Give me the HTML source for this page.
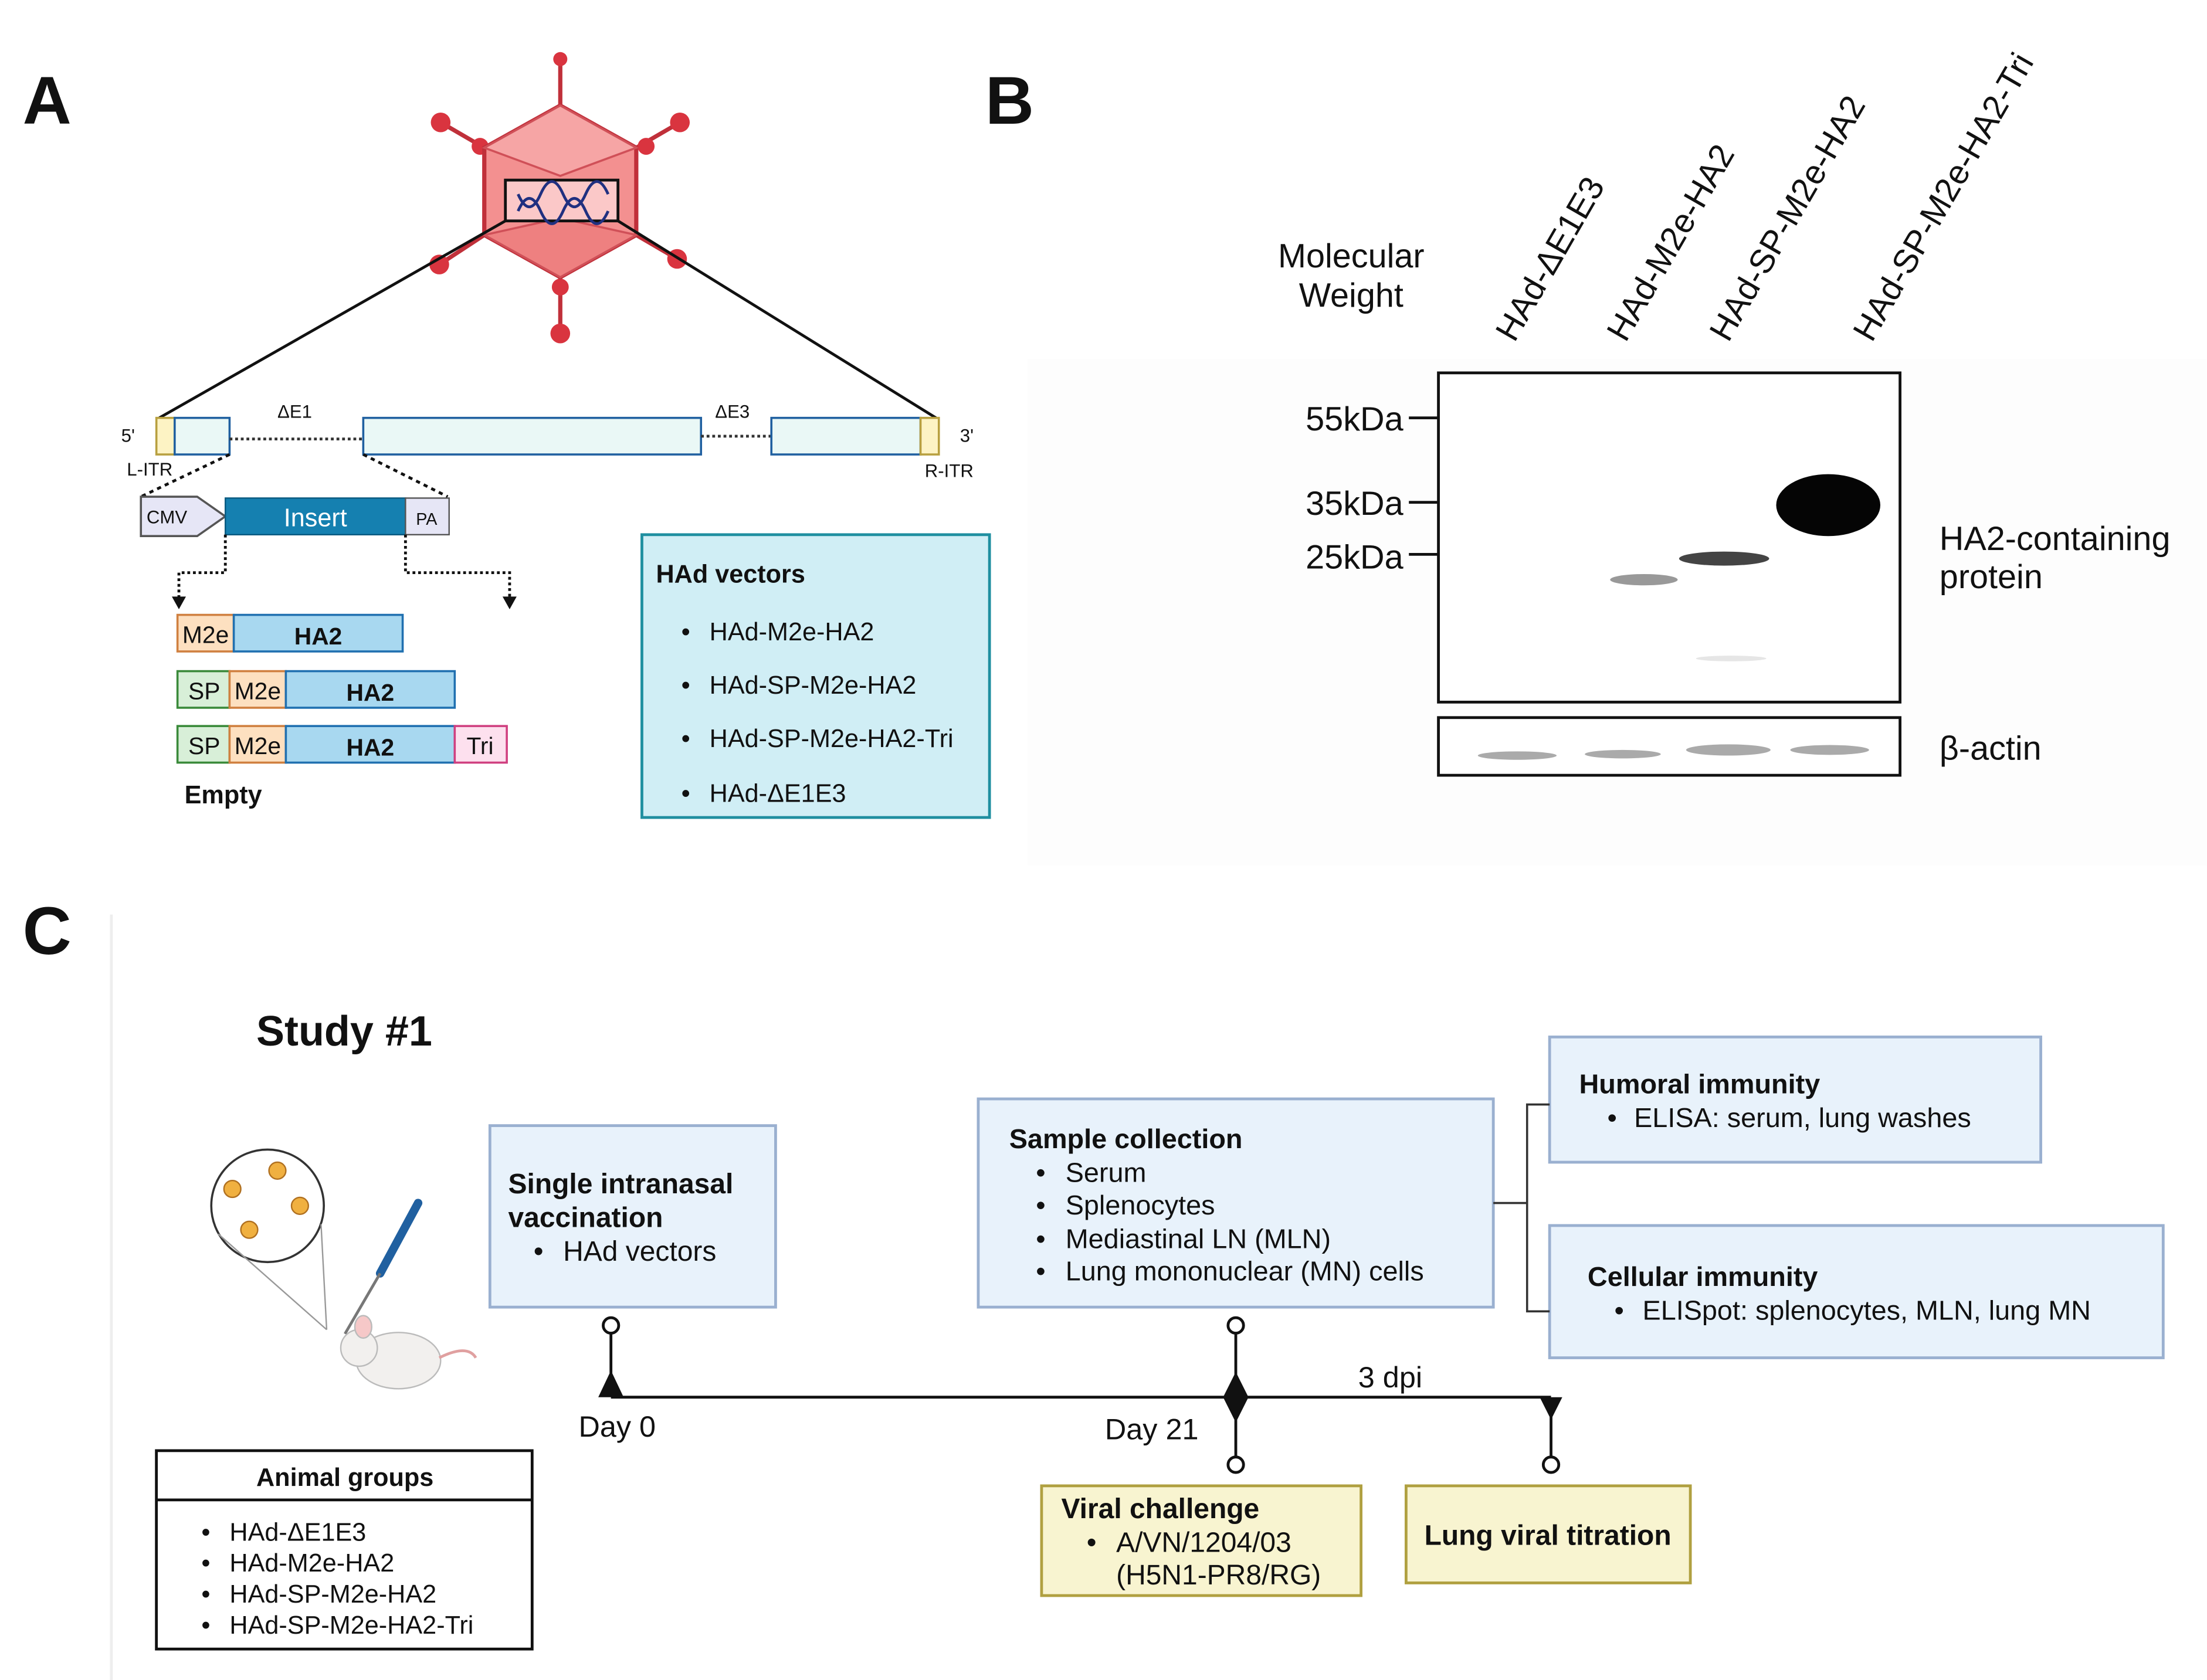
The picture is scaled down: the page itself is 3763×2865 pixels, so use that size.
<!DOCTYPE html>
<html><head><meta charset="utf-8"><style>
html,body{margin:0;padding:0;background:#fff}
svg{display:block}
text{font-family:"Liberation Sans",sans-serif;fill:#111}
.b{font-weight:bold}
</style></head><body>
<svg width="3763" height="2865" viewBox="0 0 1568 1194" xmlns="http://www.w3.org/2000/svg">
<rect width="1568" height="1194" fill="#fff"/>
<!-- Panel A -->
<text x="16" y="88" font-size="48" class="b">A</text>
<g stroke="#c0303a" stroke-width="3">
<line x1="398" y1="75" x2="398" y2="42"/><line x1="344" y1="105" x2="313" y2="87"/><line x1="452" y1="105" x2="483" y2="87"/>
<line x1="344" y1="167" x2="312" y2="188"/><line x1="452" y1="167" x2="481" y2="184"/><line x1="398" y1="197" x2="398" y2="237"/>
</g>
<g fill="#d9343f"><circle cx="398" cy="42" r="5"/><circle cx="313" cy="87" r="7"/><circle cx="483" cy="87" r="7"/><circle cx="312" cy="188" r="7"/><circle cx="481" cy="184" r="7"/><circle cx="398" cy="237" r="7"/><circle cx="398" cy="204" r="6"/><circle cx="341" cy="104" r="6"/><circle cx="459" cy="104" r="6"/></g>
<polygon points="398,75 452,105 452,167 398,197 344,167 344,105" fill="#f39090" stroke="#c0303a" stroke-width="3"/>
<polygon points="398,75 452,105 398,125 344,105" fill="#f6a5a5" stroke="#d05058" stroke-width="1.5"/>
<polygon points="344,167 398,155 452,167 398,197" fill="#ee8080" stroke="#d05058" stroke-width="1.5"/>
<rect x="359" y="128" width="80" height="29" fill="#fbc8c8" stroke="#111" stroke-width="2"/>
<path d="M368,150 q8,-18 16,0 t16,0 t16,0 t16,0" fill="none" stroke="#203080" stroke-width="2"/>
<path d="M368,138 q8,18 16,0 t16,0 t16,0 t16,0" fill="none" stroke="#203080" stroke-width="2"/>
<line x1="359" y1="157" x2="113" y2="297" stroke="#111" stroke-width="2"/>
<line x1="439" y1="157" x2="665" y2="297" stroke="#111" stroke-width="2"/>
<rect x="111" y="297" width="13" height="26" fill="#fdf3c4" stroke="#b8a040" stroke-width="1.5"/>
<rect x="124" y="297" width="39" height="26" fill="#eaf8f6" stroke="#2060a0" stroke-width="1.5"/>
<line x1="163" y1="312" x2="258" y2="312" stroke="#333" stroke-width="2" stroke-dasharray="2,2"/>
<rect x="258" y="297" width="240" height="26" fill="#eaf8f6" stroke="#2060a0" stroke-width="1.5"/>
<line x1="498" y1="310" x2="548" y2="310" stroke="#333" stroke-width="2" stroke-dasharray="2,2"/>
<rect x="548" y="297" width="106" height="26" fill="#eaf8f6" stroke="#2060a0" stroke-width="1.5"/>
<rect x="654" y="297" width="13" height="26" fill="#fdf3c4" stroke="#b8a040" stroke-width="1.5"/>
<g font-size="13"><text x="86" y="314">5'</text><text x="682" y="314">3'</text><text x="90" y="338">L-ITR</text><text x="657" y="339">R-ITR</text><text x="197" y="297">ΔE1</text><text x="508" y="297">ΔE3</text></g>
<line x1="163" y1="323" x2="100" y2="353" stroke="#111" stroke-width="2" stroke-dasharray="3,3"/>
<line x1="258" y1="323" x2="318" y2="353" stroke="#111" stroke-width="2" stroke-dasharray="3,3"/>
<polygon points="100,353 140,353 160,367 140,381 100,381" fill="#e6e6f6" stroke="#555" stroke-width="1.5"/>
<text x="104" y="372" font-size="13">CMV</text>
<rect x="160" y="354" width="128" height="26" fill="#1580b0" stroke="#0a5a80"/>
<text x="224" y="374" font-size="18" text-anchor="middle" style="fill:#fff">Insert</text>
<rect x="288" y="354" width="31" height="26" fill="#e6e6f6" stroke="#555"/>
<text x="303" y="373" font-size="12" text-anchor="middle">PA</text>
<polyline points="160,380 160,407 127,407 127,426" fill="none" stroke="#111" stroke-width="2" stroke-dasharray="2,2"/>
<polygon points="122,424 132,424 127,433" fill="#111"/>
<polyline points="288,380 288,407 362,407 362,426" fill="none" stroke="#111" stroke-width="2" stroke-dasharray="2,2"/>
<polygon points="357,424 367,424 362,433" fill="#111"/>
<g font-size="17">
<rect x="126" y="437" width="40" height="26" fill="#fde0c0" stroke="#d08040" stroke-width="1.5"/><text x="146" y="457" text-anchor="middle">M2e</text>
<rect x="166" y="437" width="120" height="26" fill="#a8d8f0" stroke="#2070b0" stroke-width="1.5"/><text x="226" y="458" text-anchor="middle" class="b">HA2</text>
<rect x="126" y="477" width="37" height="26" fill="#d8efd8" stroke="#3a8a3a" stroke-width="1.5"/><text x="145" y="497" text-anchor="middle">SP</text>
<rect x="163" y="477" width="40" height="26" fill="#fde0c0" stroke="#d08040" stroke-width="1.5"/><text x="183" y="497" text-anchor="middle">M2e</text>
<rect x="203" y="477" width="120" height="26" fill="#a8d8f0" stroke="#2070b0" stroke-width="1.5"/><text x="263" y="498" text-anchor="middle" class="b">HA2</text>
<rect x="126" y="516" width="37" height="26" fill="#d8efd8" stroke="#3a8a3a" stroke-width="1.5"/><text x="145" y="536" text-anchor="middle">SP</text>
<rect x="163" y="516" width="40" height="26" fill="#fde0c0" stroke="#d08040" stroke-width="1.5"/><text x="183" y="536" text-anchor="middle">M2e</text>
<rect x="203" y="516" width="120" height="26" fill="#a8d8f0" stroke="#2070b0" stroke-width="1.5"/><text x="263" y="537" text-anchor="middle" class="b">HA2</text>
<rect x="323" y="516" width="37" height="26" fill="#fde0ee" stroke="#d04080" stroke-width="1.5"/><text x="341" y="536" text-anchor="middle">Tri</text>
<text x="131" y="571" class="b" font-size="18">Empty</text>
</g>
<rect x="456" y="380" width="247" height="201" fill="#d0eef5" stroke="#1f8fa0" stroke-width="2"/>
<g font-size="18"><text x="466" y="414" class="b">HAd vectors</text>
<text x="484" y="455">•</text><text x="504" y="455">HAd-M2e-HA2</text>
<text x="484" y="493">•</text><text x="504" y="493">HAd-SP-M2e-HA2</text>
<text x="484" y="531">•</text><text x="504" y="531">HAd-SP-M2e-HA2-Tri</text>
<text x="484" y="570">•</text><text x="504" y="570">HAd-ΔE1E3</text></g>

<!-- Panel B -->
<text x="700" y="88" font-size="48" class="b">B</text>
<rect x="730" y="255" width="838" height="360" fill="#fdfdfd"/>
<g font-size="24">
<text transform="translate(1076,244) rotate(-60)">HAd-ΔE1E3</text>
<text transform="translate(1155,244) rotate(-60)">HAd-M2e-HA2</text>
<text transform="translate(1228,244) rotate(-60)">HAd-SP-M2e-HA2</text>
<text transform="translate(1330,244) rotate(-60)">HAd-SP-M2e-HA2-Tri</text>
<text x="960" y="190" text-anchor="middle">Molecular</text>
<text x="960" y="218" text-anchor="middle">Weight</text>
<text x="997" y="306" text-anchor="end">55kDa</text>
<text x="997" y="366" text-anchor="end">35kDa</text>
<text x="997" y="404" text-anchor="end">25kDa</text>
<text x="1378" y="391">HA2-containing</text>
<text x="1378" y="418">protein</text>
<text x="1378" y="540">β-actin</text>
</g>
<rect x="1022" y="265" width="328" height="234" fill="#fff" stroke="#111" stroke-width="2"/>
<g stroke="#111" stroke-width="2"><line x1="1001" y1="297" x2="1022" y2="297"/><line x1="1001" y1="357" x2="1022" y2="357"/><line x1="1001" y1="394" x2="1022" y2="394"/></g>
<ellipse cx="1168" cy="412" rx="24" ry="4" fill="#999"/>
<ellipse cx="1225" cy="397" rx="32" ry="5" fill="#444"/>
<ellipse cx="1230" cy="468" rx="25" ry="2" fill="#e6e6e6"/>
<ellipse cx="1299" cy="359" rx="37" ry="22" fill="#050505"/>
<rect x="1022" y="510" width="328" height="41" fill="#fff" stroke="#111" stroke-width="2"/>
<g fill="#aaa"><ellipse cx="1078" cy="537" rx="28" ry="3"/><ellipse cx="1153" cy="536" rx="27" ry="3"/><ellipse cx="1228" cy="533" rx="30" ry="4"/><ellipse cx="1300" cy="533" rx="28" ry="3.5"/></g>

<!-- Panel C -->
<text x="16" y="678" font-size="48" class="b">C</text>
<line x1="79" y1="650" x2="79" y2="1194" stroke="#eee" stroke-width="2"/>
<text x="182" y="743" font-size="30" class="b">Study #1</text>
<circle cx="190" cy="857" r="40" fill="#fff" stroke="#333" stroke-width="1.5"/>
<line x1="155" y1="877" x2="232" y2="945" stroke="#999"/><line x1="228" y1="870" x2="232" y2="945" stroke="#999"/>
<g fill="#f0b040" stroke="#b07020"><circle cx="165" cy="845" r="6"/><circle cx="197" cy="832" r="6"/><circle cx="213" cy="857" r="6"/><circle cx="177" cy="874" r="6"/></g>
<g stroke="#2060a0" stroke-width="6" stroke-linecap="round"><line x1="297" y1="855" x2="270" y2="905"/></g>
<line x1="270" y1="905" x2="245" y2="948" stroke="#777" stroke-width="2"/>
<ellipse cx="283" cy="967" rx="30" ry="20" fill="#f2f0ee" stroke="#bbb"/>
<circle cx="255" cy="958" r="13" fill="#f2f0ee" stroke="#bbb"/>
<ellipse cx="258" cy="943" rx="6" ry="8" fill="#f6c8c8" stroke="#bbb"/>
<path d="M312,965 q20,-10 26,0" fill="none" stroke="#e0a0a0" stroke-width="2"/>
<rect x="348" y="800" width="203" height="129" fill="#e8f2fb" stroke="#9ab0d0" stroke-width="2"/>
<g font-size="20"><text x="361" y="848" class="b">Single intranasal</text><text x="361" y="872" class="b">vaccination</text>
<text x="379" y="896">•</text><text x="400" y="896">HAd vectors</text></g>
<rect x="695" y="781" width="366" height="148" fill="#e8f2fb" stroke="#9ab0d0" stroke-width="2"/>
<g font-size="19.5"><text x="717" y="816" class="b">Sample collection</text>
<text x="736" y="840">•</text><text x="757" y="840">Serum</text>
<text x="736" y="863">•</text><text x="757" y="863">Splenocytes</text>
<text x="736" y="887">•</text><text x="757" y="887">Mediastinal LN (MLN)</text>
<text x="736" y="910">•</text><text x="757" y="910">Lung mononuclear (MN) cells</text></g>
<rect x="1101" y="737" width="349" height="89" fill="#e8f2fb" stroke="#9ab0d0" stroke-width="2"/>
<g font-size="19.5"><text x="1122" y="777" class="b">Humoral immunity</text><text x="1142" y="801">•</text><text x="1161" y="801">ELISA: serum, lung washes</text></g>
<rect x="1101" y="871" width="436" height="94" fill="#e8f2fb" stroke="#9ab0d0" stroke-width="2"/>
<g font-size="19.5"><text x="1128" y="914" class="b">Cellular immunity</text><text x="1147" y="938">•</text><text x="1167" y="938">ELISpot: splenocytes, MLN, lung MN</text></g>
<g stroke="#333" stroke-width="1.5" fill="none"><line x1="1061" y1="855" x2="1085" y2="855"/><polyline points="1101,785 1085,785 1085,932 1101,932"/></g>
<g stroke="#111" stroke-width="2" fill="none">
<line x1="434" y1="993" x2="1102" y2="993"/>
<line x1="434" y1="947" x2="434" y2="976"/><circle cx="434" cy="942" r="5.5" fill="#fff"/>
<line x1="878" y1="947" x2="878" y2="1036"/><circle cx="878" cy="942" r="5.5" fill="#fff"/><circle cx="878" cy="1041" r="5.5" fill="#fff"/>
<line x1="1102" y1="1000" x2="1102" y2="1036"/><circle cx="1102" cy="1041" r="5.5" fill="#fff"/>
</g>
<polygon points="425,993 434,974 443,993" fill="#111"/>
<polygon points="878,975 887,993 878,1011 869,993" fill="#111"/>
<polygon points="1094,993 1110,993 1102,1009" fill="#111"/>
<g font-size="21"><text x="411" y="1021">Day 0</text><text x="785" y="1023">Day 21</text><text x="965" y="986">3 dpi</text></g>
<rect x="740" y="1056" width="227" height="78" fill="#f8f4d0" stroke="#b0a040" stroke-width="2"/>
<g font-size="20"><text x="754" y="1079" class="b">Viral challenge</text><text x="772" y="1103">•</text><text x="793" y="1103">A/VN/1204/03</text><text x="793" y="1126">(H5N1-PR8/RG)</text></g>
<rect x="999" y="1056" width="202" height="69" fill="#f8f4d0" stroke="#b0a040" stroke-width="2"/>
<text x="1012" y="1098" font-size="20" class="b">Lung viral titration</text>
<rect x="111" y="1031" width="267" height="141" fill="#fff" stroke="#111" stroke-width="2"/>
<line x1="111" y1="1066" x2="378" y2="1066" stroke="#111" stroke-width="2"/>
<g font-size="18"><text x="245" y="1056" text-anchor="middle" class="b">Animal groups</text>
<text x="143" y="1095">•</text><text x="163" y="1095">HAd-ΔE1E3</text>
<text x="143" y="1117">•</text><text x="163" y="1117">HAd-M2e-HA2</text>
<text x="143" y="1139">•</text><text x="163" y="1139">HAd-SP-M2e-HA2</text>
<text x="143" y="1161">•</text><text x="163" y="1161">HAd-SP-M2e-HA2-Tri</text></g>
</svg>
</body></html>
